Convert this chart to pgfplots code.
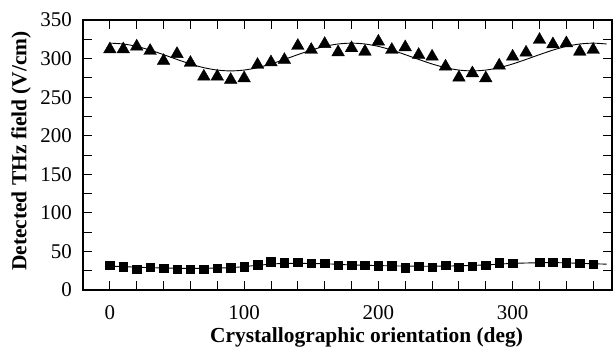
\documentclass[border=0pt]{standalone}
\usepackage{pgfplots}
\pgfplotsset{compat=1.18}
\usepackage{fontspec}
\setmainfont{Liberation Serif}
\usetikzlibrary{calc}

\begin{document}
\begin{tikzpicture}
\begin{axis}[
  scale only axis, width=529bp, height=270bp,
  xmin=-20, xmax=374, ymin=0, ymax=350,
  xtick={0,100,200,300},
  xticklabels={0,100,200,300},
  minor xtick={20,40,60,80,120,140,160,180,220,240,260,280,320,340,360},
  ytick={0,50,100,150,200,250,300,350},
  yticklabels={0,50,100,150,200,250,300,350},
  minor ytick={25,75,...,325},
  tick align=inside,
  major tick length=9bp, minor tick length=9bp,
  tick style={black, line width=0.9pt},
  axis line style={line width=1.1pt},
  /pgf/number format/assume math mode=true,
  ticklabel style={font=\rmfamily\fontsize{21}{24}\selectfont, inner sep=0pt},
  yticklabel style={xshift=-11bp},
  xticklabel style={yshift=-15bp},
  xlabel={Crystallographic orientation (deg)},
  ylabel={Detected THz field (V/cm)},
  label style={font=\rmfamily\bfseries\fontsize{21.5}{24}\selectfont},
  xlabel style={at={(axis description cs:0.536,-0.174)}, anchor=center},
  ylabel style={at={(axis description cs:-0.117,0.515)}, anchor=center},
]
% fit curve for triangles
\addplot[black, line width=0.9pt, smooth, no markers] coordinates {
(0,320) (10,318.9) (20,315.8) (30,311) (40,305.1) (50,298.9) (60,293) (70,288.2) (80,285.1) (90,284)
(100,285.1) (110,288.2) (120,293) (130,298.9) (140,305.1) (150,311) (160,315.8) (170,318.9) (180,320)
(190,318.9) (200,315.8) (210,311) (220,305.1) (230,298.9) (240,293) (250,288.2) (260,285.1) (270,284)
(280,285.1) (290,288.2) (300,293) (310,298.9) (320,305.1) (330,311) (340,315.8) (350,318.9) (360,320) (370,318.9)
};
% fit curve for squares
\addplot[black, line width=0.9pt, smooth, no markers] coordinates {
(0,31) (30,29) (60,28) (90,29) (110,32) (130,34.5) (160,34) (180,32.5) (220,31) (250,31) (280,32.5) (300,34.5) (330,35.5) (360,34) (370,33.5)
};
% triangles
\addplot[only marks, mark=triangle*, mark size=7.3pt, black] coordinates {
(0,312) (10,312) (20,315.6) (30,310) (40,297) (50,306) (60,294.5) (70,276.7) (80,276.7) (90,272.4)
(100,274.5) (110,291.9) (120,295.2) (130,298.3) (140,316.5) (150,311.3) (160,319) (170,308.2) (180,313.5)
(190,309) (200,322) (210,311.3) (220,314.7) (230,304.8) (240,302.6) (250,289.7) (260,275.4) (270,281)
(280,274.5) (290,291) (300,302.6) (310,307.8) (320,324.3) (330,318.6) (340,319.9) (350,309) (360,311.3)
};
% squares
\addplot[only marks, mark=square*, mark size=4.3pt, black] coordinates {
(0,32.4) (10,30.2) (20,27.2) (30,29.4) (40,28.1) (50,27.2) (60,26.8) (70,27.2) (80,28.1) (90,28.9)
(100,30.2) (110,32.8) (120,36.7) (130,35.4) (140,35.9) (150,34.6) (160,34.6) (170,32.4) (180,32.4)
(190,32.4) (200,31.5) (210,31.5) (220,28.9) (230,31.1) (240,29.4) (250,32.4) (260,29.4) (270,31.1)
(280,32.4) (290,35.4) (300,34.6) (320,35.9) (330,36.3) (340,35.4) (350,34.6) (360,33.3)
};
\end{axis}
\path ($(current axis.south west)+(-83bp,-62bp)$) rectangle ($(current axis.north east)+(1bp,20bp)$);
\end{tikzpicture}
\end{document}
